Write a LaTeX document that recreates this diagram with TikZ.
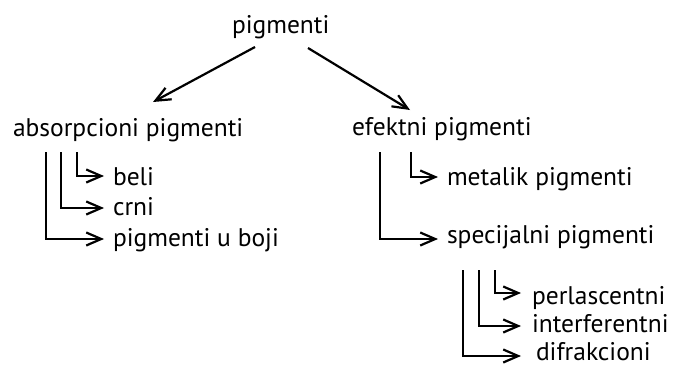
\documentclass[tikz,border=0pt]{standalone}
\usepackage{fontspec}
\setmainfont{PT Sans}
\usetikzlibrary{arrows.meta}
\tikzset{
  lbl/.style={anchor=base west, inner sep=0pt, outer sep=0pt, text depth=0pt, font=\fontsize{25.5}{30}\selectfont},
  conn/.style={line width=2.2pt, -{Straight Barb[length=15pt,width=13pt,line width=2.2pt]}},
}
\begin{document}
\begin{tikzpicture}[x=1pt,y=-1pt]
\useasboundingbox (0,0) rectangle (673,367);
% labels
\node[lbl] (root) at (232,33) {pigmenti};
\node[lbl] (abs) at (13,136.5) {absorpcioni pigmenti};
\node[lbl] (efk) at (352,135) {efektni pigmenti};
\node[lbl] (beli) at (113,185) {beli};
\node[lbl] (crni) at (113,215) {crni};
\node[lbl] (boji) at (113,246) {pigmenti u boji};
\node[lbl] (met) at (447,185) {metalik pigmenti};
\node[lbl] (spec) at (447,243) {specijalni pigmenti};
\node[lbl] (perl) at (532,304) {perlascentni};
\node[lbl] (intf) at (532,332) {interferentni};
\node[lbl] (difr) at (536,360) {difrakcioni};
% connector anchor points
\coordinate (r1) at (255,47);
\coordinate (r2) at (308,48);
\coordinate (a1) at (153,102);
\coordinate (e1) at (410,110);
\draw[conn] (r1) -- (a1);
\draw[conn] (r2) -- (e1);
% left group
\coordinate (absA) at (46,152);
\coordinate (absB) at (61,152);
\coordinate (absC) at (77,152);
\draw[conn] (absC) |- (104,176) coordinate (beliT);
\draw[conn] (absB) |- (104,208) coordinate (crniT);
\draw[conn] (absA) |- (104,239) coordinate (bojiT);
% right group
\coordinate (efA) at (380,152);
\coordinate (efB) at (411,152);
\draw[conn] (efB) |- (438,177) coordinate (metT);
\draw[conn] (efA) |- (438,239) coordinate (specT);
% bottom group
\coordinate (spA) at (463,270);
\coordinate (spB) at (479,270);
\coordinate (spC) at (495,270);
\draw[conn] (spC) |- (521,293) coordinate (perlT);
\draw[conn] (spB) |- (521,326) coordinate (intfT);
\draw[conn] (spA) |- (521,356) coordinate (difrT);
\end{tikzpicture}
\end{document}
